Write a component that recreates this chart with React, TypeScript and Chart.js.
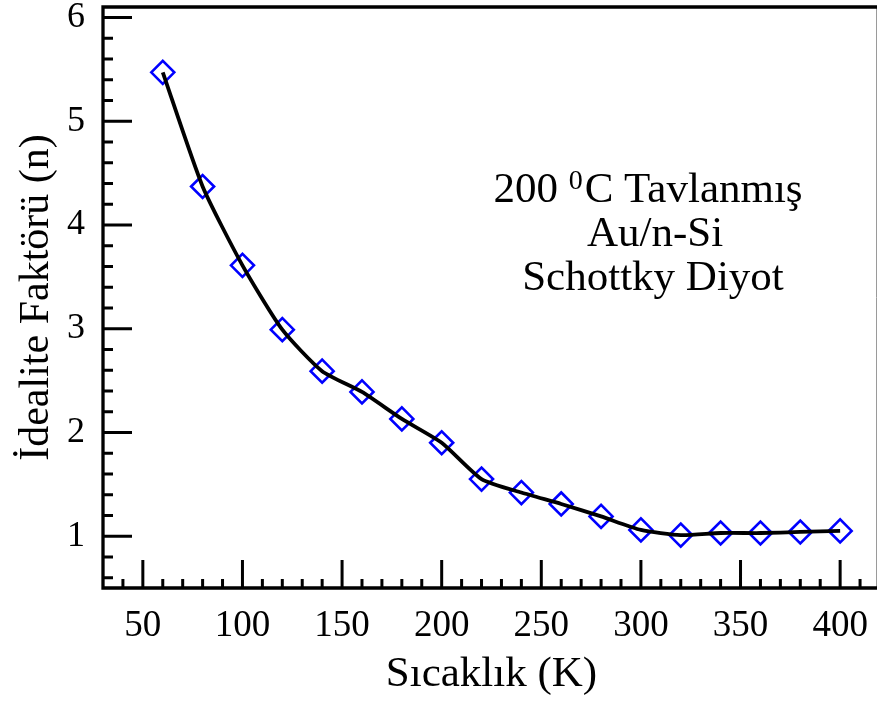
import React, { useEffect, useRef } from "react";
import { Chart, registerables } from "chart.js";

Chart.register(...registerables);

const temperatures = [60, 80, 100, 120, 140, 160, 180, 200, 220, 240, 260, 280, 300, 320, 340, 360, 380, 400];
const idealityFactor = [5.47, 4.37, 3.61, 2.99, 2.59, 2.39, 2.13, 1.9, 1.55, 1.42, 1.31, 1.19, 1.06, 1.01, 1.03, 1.03, 1.04, 1.05];
const xTickValues = [50, 100, 150, 200, 250, 300, 350, 400];
const yTickValues = [1, 2, 3, 4, 5, 6];
const xTitle = "Sıcaklık (K)";
const yTitle = "İdealite Faktörü (n)";
const noteLine1Before = "200 ";
const noteLine1Sup = "0";
const noteLine1After = "C Tavlanmış";
const noteLine2 = "Au/n-Si";
const noteLine3 = "Schottky Diyot";

const FONT = "'Liberation Serif', 'Times New Roman', serif";

const framePlugin = {
  id: "frame",
  afterDraw(chart: any) {
    const { ctx, chartArea: a, scales } = chart;
    const x = scales.x;
    const y = scales.y;
    ctx.save();
    // right border (thin gray)
    ctx.strokeStyle = "#9a9a9a";
    ctx.lineWidth = 1;
    ctx.beginPath();
    ctx.moveTo(a.right + 0.5, a.top);
    ctx.lineTo(a.right + 0.5, a.bottom);
    ctx.stroke();
    // main frame
    ctx.strokeStyle = "#000";
    ctx.lineWidth = 3.3;
    ctx.lineCap = "square";
    ctx.beginPath();
    ctx.moveTo(a.right, a.top);
    ctx.lineTo(a.left, a.top);
    ctx.lineTo(a.left, a.bottom);
    ctx.lineTo(a.right, a.bottom);
    ctx.stroke();
    ctx.lineCap = "butt";
    ctx.lineWidth = 3;
    ctx.beginPath();
    for (let v = 40; v <= 410; v += 10) {
      const px = x.getPixelForValue(v);
      const len = v % 50 === 0 ? 28 : 9;
      ctx.moveTo(px, a.bottom);
      ctx.lineTo(px, a.bottom - len);
    }
    for (let k = 6; k <= 60; k += 2) {
      const py = y.getPixelForValue(k / 10);
      const len = k % 10 === 0 ? 29 : 10;
      ctx.moveTo(a.left, py);
      ctx.lineTo(a.left + len, py);
    }
    ctx.stroke();

    // titles
    ctx.fillStyle = "#000";
    ctx.font = `43px ${FONT}`;
    ctx.textAlign = "center";
    ctx.textBaseline = "alphabetic";
    ctx.fillText(xTitle, (a.left + a.right) / 2 + 2, 686);
    ctx.save();
    ctx.font = `42px ${FONT}`;
    ctx.translate(48, (a.top + a.bottom) / 2);
    ctx.rotate(-Math.PI / 2);
    ctx.fillText(yTitle, 0, 0);
    ctx.restore();

    // annotation
    const cx = 648;
    ctx.font = `43px ${FONT}`;
    const w1 = ctx.measureText(noteLine1Before).width;
    const w3 = ctx.measureText(noteLine1After).width;
    ctx.font = `28px ${FONT}`;
    const w2 = ctx.measureText(noteLine1Sup).width + 2;
    const total = w1 + w2 + w3;
    let sx = cx - total / 2;
    ctx.textAlign = "left";
    ctx.font = `43px ${FONT}`;
    ctx.fillText(noteLine1Before, sx, 202);
    sx += w1;
    ctx.font = `28px ${FONT}`;
    ctx.fillText(noteLine1Sup, sx, 189);
    sx += w2;
    ctx.font = `43px ${FONT}`;
    ctx.fillText(noteLine1After, sx, 202);
    ctx.textAlign = "center";
    ctx.fillText(noteLine2, cx + 7, 246);
    ctx.fillText(noteLine3, cx + 5, 290);
    ctx.restore();
  },
};

const noPad = (s: any) => {
  s.paddingTop = 0;
  s.paddingBottom = 0;
  s.paddingLeft = 0;
  s.paddingRight = 0;
};

export default function App() {
  const ref = useRef<HTMLCanvasElement>(null);
  useEffect(() => {
    if (!ref.current) return;
    const pts = temperatures.map((t, i) => ({ x: t, y: idealityFactor[i] }));
    const chart = new Chart(ref.current, {
      type: "line",
      data: {
        datasets: [
          {
            data: pts,
            borderColor: "#000",
            borderWidth: 3.8,
            tension: 0.2,
            pointRadius: 0,
            fill: false,
            order: 0,
          },
          {
            data: pts,
            showLine: false,
            pointStyle: "rectRot",
            pointRadius: 11.5,
            pointBorderWidth: 2.6,
            pointBorderColor: "#0000ff",
            pointBackgroundColor: "rgba(0,0,0,0)",
            order: 1,
          },
        ],
      },
      options: {
        responsive: false,
        animation: false,
        layout: { autoPadding: false, padding: { top: 7, right: 1, left: 0, bottom: 0 } },
        plugins: { legend: { display: false }, tooltip: { enabled: false } },
        scales: {
          x: {
            type: "linear",
            min: 30,
            max: 418,
            grid: { display: false, drawTicks: false, tickLength: 0 },
            border: { display: false },
            afterFit: (s: any) => {
              s.height = 120;
              noPad(s);
            },
            afterBuildTicks: (s: any) => {
              s.ticks = xTickValues.map((v) => ({ value: v }));
            },
            ticks: {
              padding: 16,
              color: "#000",
              maxRotation: 0,
              autoSkip: false,
              font: { family: FONT, size: 37 },
            },
          },
          y: {
            type: "linear",
            min: 0.5,
            max: 6.1,
            grid: { display: false, drawTicks: false, tickLength: 0 },
            border: { display: false },
            afterFit: (s: any) => {
              s.width = 103;
              noPad(s);
            },
            afterBuildTicks: (s: any) => {
              s.ticks = yTickValues.map((v) => ({ value: v }));
            },
            ticks: {
              padding: 18,
              color: "#000",
              autoSkip: false,
              font: { family: FONT, size: 36 },
            },
          },
        },
      },
      plugins: [framePlugin],
    });
    return () => chart.destroy();
  }, []);
  return (
    <div style={{ position: "absolute", left: 0, top: 0, width: 877, height: 708, background: "#fff" }}>
      <canvas ref={ref} width={877} height={708} style={{ display: "block" }} />
    </div>
  );
}
